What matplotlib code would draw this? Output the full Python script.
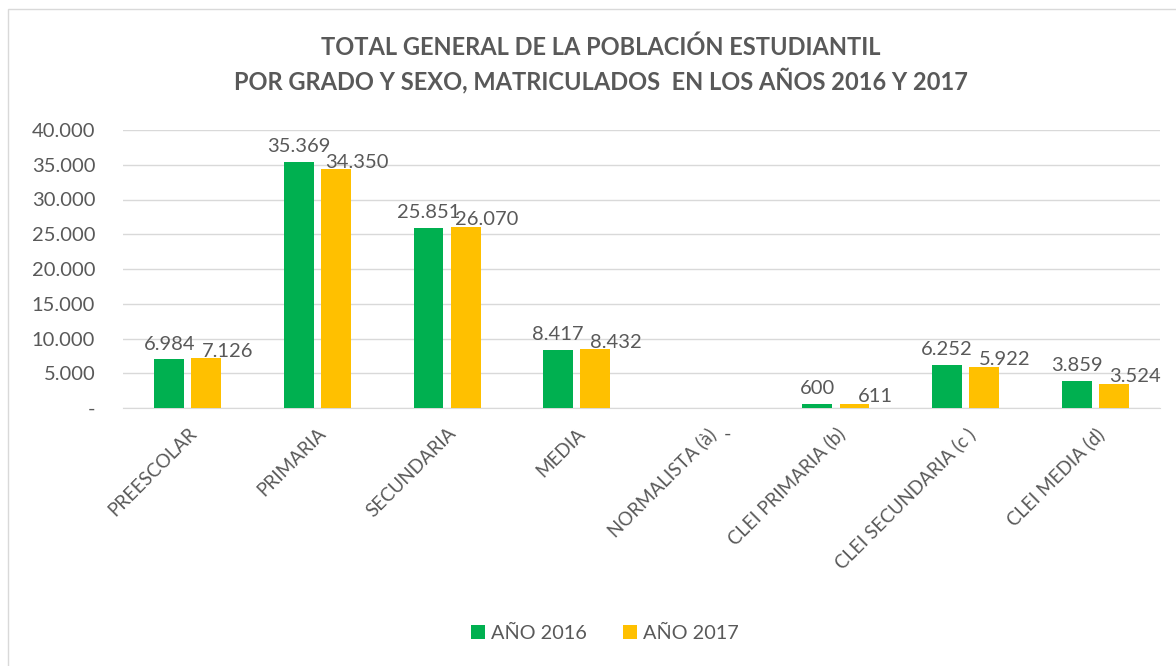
import numpy as np
import matplotlib.pyplot as plt
from matplotlib.patches import Rectangle

categorias = ["PREESCOLAR", "PRIMARIA", "SECUNDARIA", "MEDIA", "NORMALISTA (à)",
              "CLEI PRIMARIA (b)", "CLEI SECUNDARIA (c )", "CLEI MEDIA (d)"]
anio_2016 = [6984, 35369, 25851, 8417, 0, 600, 6252, 3859]
anio_2017 = [7126, 34350, 26070, 8432, 0, 611, 5922, 3524]

verde = "#00B050"
amarillo = "#FFC000"
gris = "#595959"

plt.rcParams["font.family"] = ["Lato", "DejaVu Sans"]

def fmt(v):
    return "-" if v == 0 else f"{v:,}".replace(",", ".")

fig = plt.figure(figsize=(11.76, 6.66), dpi=100)
ax = fig.add_axes([123 / 1176, 1 - 408 / 666, (1160 - 123) / 1176, (408 - 130) / 666])

x = np.arange(len(categorias))
w = 0.23
off = 0.143
b1 = ax.bar(x - off, anio_2016, w, color=verde, label="AÑO 2016", zorder=3)
b2 = ax.bar(x + off, anio_2017, w, color=amarillo, label="AÑO 2017", zorder=3)

# etiquetas de valores
for xi, v in zip(x, anio_2016):
    if v == 0:
        continue
    ax.annotate(fmt(v), (xi - off, v), xytext=(0, 5), textcoords="offset points",
                ha="center", va="bottom", fontsize=14.5, color=gris)
for xi, v in zip(x, anio_2017):
    if v == 0:
        ax.annotate("-", (xi, 0), xytext=(15, -19), textcoords="offset points",
                    ha="center", va="center", fontsize=14.5, color=gris)
        continue
    ax.annotate(fmt(v), (xi + off, v), xytext=(15, -1), textcoords="offset points",
                ha="center", va="bottom", fontsize=14.5, color=gris)

ax.set_xlim(-0.5, len(categorias) - 0.5)
ax.set_ylim(0, 40000)
ax.set_yticks(range(0, 40001, 5000))
ax.set_yticklabels([fmt(t) for t in range(0, 40001, 5000)], fontsize=14.5, color=gris)
ax.set_xticks(x)
ax.set_xticklabels(categorias, rotation=45, ha="right", va="top",
                   rotation_mode="anchor", fontsize=13.5, color=gris)
ax.tick_params(axis="y", length=0, pad=20)
ax.tick_params(axis="x", length=0, pad=12)
ax.grid(axis="y", color="#D9D9D9", lw=1, zorder=0)
for s in ["top", "right", "left"]:
    ax.spines[s].set_visible(False)
ax.spines["bottom"].set_color("#D9D9D9")

fig.text(601 / 1176, 1 - 47 / 666, "TOTAL GENERAL DE LA POBLACIÓN ESTUDIANTIL",
         ha="center", va="center", fontsize=17, fontweight="bold", color=gris)
fig.text(601 / 1176, 1 - 80 / 666, "POR GRADO Y SEXO, MATRICULADOS  EN LOS AÑOS 2016 Y 2017",
         ha="center", va="center", fontsize=17, fontweight="bold", color=gris)

fig.legend(handles=[b1, b2], loc="center", bbox_to_anchor=(605 / 1176, 1 - 633 / 666),
           ncol=2, frameon=False, fontsize=14.3, labelcolor=gris,
           handlelength=0.7, handleheight=0.7, handletextpad=0.3, columnspacing=1.8)

fig.patches.append(Rectangle((8 / 1176, -0.01), 1.1, 1 - 9 / 666 + 0.01,
                             transform=fig.transFigure, fill=False,
                             edgecolor="#D9D9D9", lw=1))

fig.savefig("out.png", dpi=100)
